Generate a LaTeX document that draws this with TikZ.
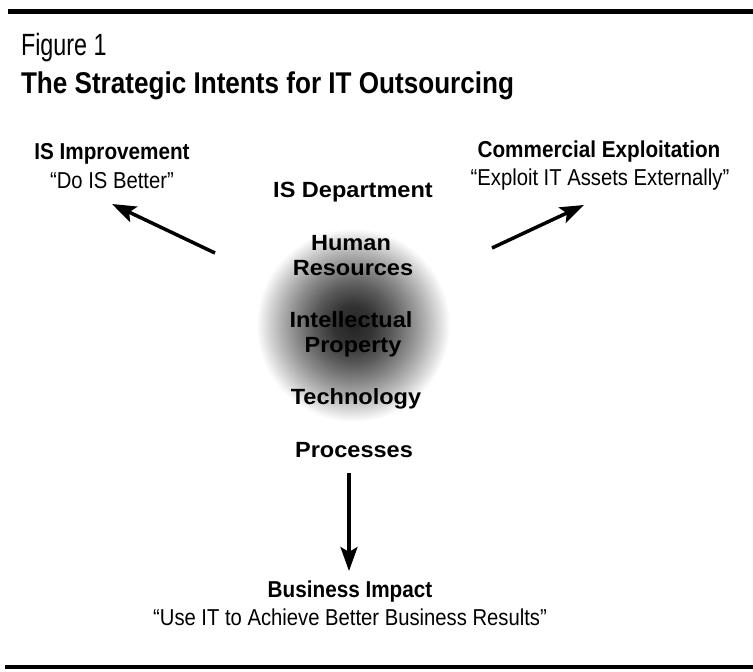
\documentclass[tikz,border=0pt]{standalone}
\usepackage{fontspec}
\setmainfont{Liberation Sans}
\newfontfamily\figfont[FakeStretch=0.76]{Liberation Sans}
\newfontfamily\titlefont[FakeStretch=0.87]{Liberation Sans}
\newfontfamily\labbfont[FakeStretch=0.9]{Liberation Sans}
\newfontfamily\labfont[FakeStretch=0.88]{Liberation Sans}
\newfontfamily\ctrfont[FakeStretch=1.07]{Liberation Sans}
\usetikzlibrary{arrows.meta}
\pgfdeclareradialshading{glow}{\pgfpoint{0bp}{0bp}}{color(0bp)=(black!86); color(5bp)=(black!80); color(10bp)=(black!65); color(15bp)=(black!46); color(19bp)=(black!29); color(22bp)=(black!15); color(24bp)=(black!5); color(25bp)=(white); color(50bp)=(white)}
\tikzset{
  txt/.style={anchor=base, inner sep=0pt, outer sep=0pt},
  ctrword/.style={txt, font=\ctrfont\bfseries\fontsize{22}{24}\selectfont},
  headb/.style={txt, font=\labbfont\bfseries\fontsize{23}{25}\selectfont},
  headq/.style={txt, font=\labfont\fontsize{23}{25}\selectfont},
  rulebar/.style={line width=5pt},
  arr/.style={line width=3.5pt, -{Stealth[length=24pt,width=17pt,inset=5pt]}}
}
\begin{document}
\begin{tikzpicture}[x=1pt,y=-1pt]
\useasboundingbox[fill=white] (0,0) rectangle (753,672);
% rules
\coordinate (tl) at (8,11);
\coordinate (tr) at (753,11);
\draw[rulebar] (tl) -- (tr);
\coordinate (bl) at (5,667);
\coordinate (br) at (753,667);
\draw[rulebar, line width=4pt] (bl) -- (br);
% title
\node[txt, anchor=base west, font=\figfont\fontsize{30.7}{32}\selectfont] (fig) at (21,55) {Figure 1};
\node[txt, anchor=base west, font=\titlefont\bfseries\fontsize{30}{32}\selectfont] (title) at (21,93) {The Strategic Intents for IT Outsourcing};
% glow
\coordinate (core) at (353,325);
\shade[shading=glow] (core) circle (97);
% centre words
\node[ctrword] (isd) at (353,197) {IS Department};
\node[ctrword] (hum) at (351,250) {Human};
\node[ctrword] (res) at (353,275) {Resources};
\node[ctrword] (int) at (351,327) {Intellectual};
\node[ctrword] (prop) at (353,352) {Property};
\node[ctrword] (tech) at (356,404) {Technology};
\node[ctrword] (proc) at (354,457) {Processes};
% outer labels
\node[headb] (isi) at (112,159) {IS Improvement};
\node[headq] (isiq) at (112,188) {“Do IS Better”};
\node[headb] (ce) at (599,157) {Commercial Exploitation};
\node[headq] (ceq) at (600,185) {“Exploit IT Assets Externally”};
\node[headb] (bi) at (350,597) {Business Impact};
\node[headq] (biq) at (350,625) {“Use IT to Achieve Better Business Results”};
% arrows
\coordinate (la) at (215,253);
\coordinate (lb) at (112,204);
\coordinate (ra) at (492,248);
\coordinate (rb) at (584,205);
\coordinate (da) at (349,473);
\coordinate (db) at (349,571);
\draw[arr] (la) -- (lb);
\draw[arr] (ra) -- (rb);
\draw[arr] (da) -- (db);
\end{tikzpicture}
\end{document}
